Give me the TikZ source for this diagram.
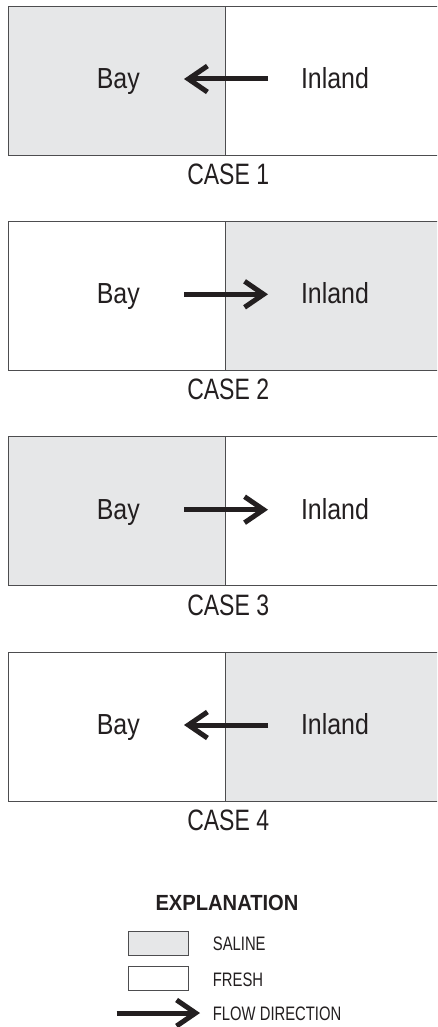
\documentclass[tikz,border=0pt]{standalone}
\usepackage{fontspec}
\setmainfont{Liberation Sans}[FakeStretch=0.86]
\newfontfamily\casefont{Liberation Sans}[FakeStretch=0.78]
\newfontfamily\legfont{Liberation Sans}[FakeStretch=0.76]
\newfontfamily\explfont{Liberation Sans}[FakeStretch=0.92]
\usetikzlibrary{arrows.meta}
\definecolor{saline}{HTML}{E6E7E8}
\definecolor{ink}{HTML}{231F20}
\definecolor{edge}{HTML}{4D4D4F}
\tikzset{
  panel/.style={draw=edge, line width=0.9pt},
  flow/.style={draw=ink, line width=5pt, -{Straight Barb[length=19pt,width=26pt,line width=5pt]}},
  lbl/.style={text=ink, font=\fontsize{29}{29}\selectfont, inner sep=0pt, anchor=base},
  casel/.style={text=ink, font=\casefont\fontsize{29.5}{29.5}\selectfont, inner sep=0pt, anchor=base},
  leg/.style={text=ink, font=\legfont\fontsize{19.5}{19.5}\selectfont, inner sep=0pt, anchor=base west},
}
\begin{document}
\begin{tikzpicture}[x=1pt,y=-1pt]
\useasboundingbox (0,0) rectangle (437,1027);
\clip (0,0) rectangle (437,1027);
\fill[white] (0,0) rectangle (437,1027);
\foreach \i/\T/\lf/\rf/\dir in {1/6/saline/white/L, 2/221.3/white/saline/R, 3/436.7/saline/white/R, 4/652/white/saline/L}{
  \path[panel, fill=\lf] (8.3,\T) rectangle (225.3,\T+149);
  \path[panel, fill=\rf] (225.3,\T) rectangle (445,\T+149);
  \node[lbl] (bay\i) at (118.3,\T+82.3) {Bay};
  \node[lbl] (inland\i) at (335,\T+82.3) {Inland};
  \node[casel] (case\i) at (228.2,\T+178.3) {CASE \i};
  \coordinate (l\i) at (184,\T+73);
  \coordinate (r\i) at (268,\T+73);
  \if L\dir
    \draw[flow] (r\i) -- (l\i);
  \else
    \draw[flow] (l\i) -- (r\i);
  \fi
}
\node[text=ink, font=\explfont\bfseries\fontsize{21.9}{21.9}\selectfont, inner sep=0pt, anchor=base] (expl) at (227,910) {EXPLANATION};
\path[panel, fill=saline] (128.3,931) rectangle (188.3,955);
\path[panel, fill=white] (128.3,966.7) rectangle (188.3,990);
\node[leg] (saltxt) at (212.7,950.7) {SALINE};
\node[leg] (fretxt) at (212.7,986) {FRESH};
\coordinate (ft) at (116.7,1013);
\coordinate (fh) at (200,1013);
\draw[flow] (ft) -- (fh);
\node[leg] (flowtxt) at (212.7,1020) {FLOW DIRECTION};
\end{tikzpicture}
\end{document}
